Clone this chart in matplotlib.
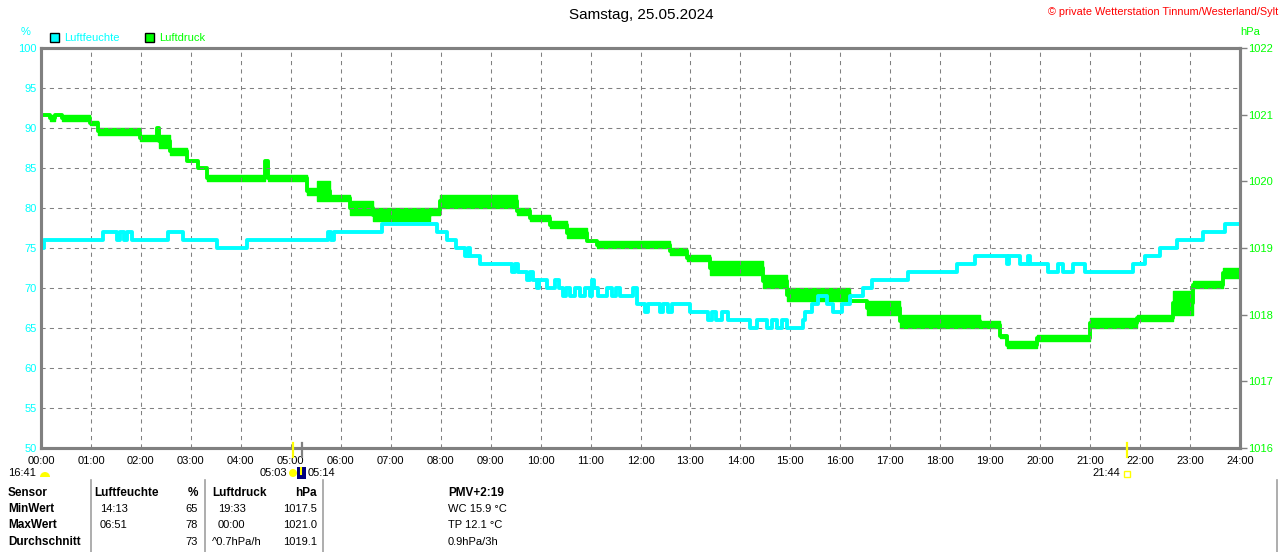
import matplotlib
matplotlib.use("Agg")
import matplotlib.pyplot as plt
from matplotlib.patches import Rectangle, Circle, Wedge

plt.rcParams['font.family'] = ['Liberation Sans', 'DejaVu Sans']

# --- Luftfeuchte (%), Stufen: Startzeit in Stunden, Wert
hum_t = [0.00, 0.06, 1.24, 1.52, 1.58, 1.66, 1.72, 1.82, 2.54, 2.84, 3.52, 4.12,
         5.74, 5.80, 5.86, 6.83, 7.93, 8.13, 8.31, 8.49, 8.55, 8.59, 8.79, 9.43,
         9.49, 9.55, 9.73, 9.79, 9.85, 9.93, 9.97, 10.13, 10.29, 10.37, 10.45, 10.51,
         10.59, 10.69, 10.79, 10.89, 10.99, 11.03, 11.07, 11.15, 11.23, 11.33, 11.43, 11.51,
         11.59, 11.85, 11.93, 12.09, 12.15, 12.39, 12.45, 12.55, 12.63, 12.99, 13.35, 13.43,
         13.51, 13.63, 13.75, 14.19, 14.33, 14.53, 14.63, 14.73, 14.83, 14.93, 15.25, 15.29,
         15.43, 15.55, 15.73, 15.85, 16.03, 16.19, 16.45, 16.63, 17.35, 18.33, 18.69, 19.34,
         19.38, 19.60, 19.76, 19.80, 20.16, 20.36, 20.46, 20.66, 20.90, 21.86, 22.10, 22.40,
         22.74, 23.26, 23.70]
hum_v = [75, 76, 77, 76, 77, 76, 77, 76, 77, 76, 75, 76,
         77, 76, 77, 78, 77, 76, 75, 74, 75, 74, 73, 72,
         73, 72, 71, 72, 71, 70, 71, 70, 71, 70, 69, 70,
         69, 70, 69, 70, 69, 71, 70, 69, 69, 70, 69, 70,
         69, 70, 68, 67, 68, 67, 68, 67, 68, 67, 66, 67,
         66, 67, 66, 65, 66, 65, 66, 65, 66, 65, 66, 67,
         68, 69, 68, 67, 68, 69, 70, 71, 72, 73, 74, 73,
         74, 73, 74, 73, 72, 73, 72, 73, 72, 73, 74, 75,
         76, 77, 78]

# --- Luftdruck (hPa): Startzeit, untere / obere Grenze des Rauschbands
p_t = [0.00, 0.18, 0.28, 0.42, 0.98, 1.14, 1.98, 2.32, 2.36, 2.58, 2.92, 3.14,
       3.32, 4.48, 4.54, 5.32, 5.52, 5.79, 6.18, 6.65, 7.79, 7.99, 9.53, 9.79,
       10.19, 10.53, 10.93, 11.13, 12.59, 12.93, 13.39, 14.45, 14.93, 16.19, 16.53, 17.19,
       18.79, 19.20, 19.34, 19.94, 21.00, 21.94, 22.66, 23.06, 23.66]
p_lo = [1021.0, 1020.9, 1021.0, 1020.9, 1020.85, 1020.7, 1020.6, 1020.8, 1020.5, 1020.4, 1020.3, 1020.2,
        1020.0, 1020.3, 1020.0, 1019.8, 1019.7, 1019.7, 1019.5, 1019.4, 1019.5, 1019.6, 1019.5, 1019.4,
        1019.3, 1019.15, 1019.1, 1019.0, 1018.9, 1018.8, 1018.6, 1018.4, 1018.2, 1018.2, 1018.0, 1017.8,
        1017.8, 1017.65, 1017.5, 1017.6, 1017.8, 1017.9, 1018.0, 1018.4, 1018.55]
p_hi = [1021.0, 1021.0, 1021.0, 1021.0, 1020.9, 1020.8, 1020.7, 1020.8, 1020.7, 1020.5, 1020.3, 1020.2,
        1020.1, 1020.3, 1020.1, 1019.9, 1020.0, 1019.8, 1019.7, 1019.6, 1019.6, 1019.8, 1019.6, 1019.5,
        1019.4, 1019.3, 1019.1, 1019.1, 1019.0, 1018.9, 1018.8, 1018.6, 1018.4, 1018.2, 1018.2, 1018.0,
        1017.9, 1017.7, 1017.6, 1017.7, 1017.95, 1018.0, 1018.35, 1018.5, 1018.7]

hours = list(range(25))
hour_labels = ["%02d:00" % h for h in hours]

# Sonnen-/Mondereignisse (Stunden)
sunrise, moonrise, sunset = 5.05, 5.233, 21.733

table_rows = [
    ["Sensor", "Luftfeuchte", "%", "Luftdruck", "hPa", "PMV+2:19"],
    ["MinWert", "14:13", "65", "19:33", "1017.5", "WC 15.9 °C"],
    ["MaxWert", "06:51", "78", "00:00", "1021.0", "TP 12.1 °C"],
    ["Durchschnitt", "", "73", "^0.7hPa/h", "1019.1", "0.9hPa/3h"],
]

CYAN = "#00ffff"
GREEN = "#00ff00"
GREY = "#808080"

fig = plt.figure(figsize=(12.8, 5.52), dpi=100)
ax = fig.add_axes([41 / 1280, 104 / 552, 1199 / 1280, 400 / 552])
ax2 = ax.twinx()
ax.set_zorder(ax2.get_zorder() + 1)
ax.patch.set_visible(False)

# Luftdruck: Rauschband + Mittellinie
pt = p_t + [24.0]
plo = p_lo + [p_lo[-1]]
phi = p_hi + [p_hi[-1]]
pmid = [(a + b) / 2 for a, b in zip(plo, phi)]
ax2.fill_between(pt, plo, phi, step='post', color=GREEN, lw=0)
ax2.step(pt, plo, where='post', color=GREEN, lw=1.0)
ax2.step(pt, phi, where='post', color=GREEN, lw=1.0)
ax2.step(pt, pmid, where='post', color=GREEN, lw=2.8)
ax2.set_ylim(1016, 1022)
ax2.set_yticks(range(1016, 1023))
ax2.tick_params(axis='y', colors=GREY, labelcolor=GREEN, length=5, width=1,
                pad=1, labelsize=8)

# Luftfeuchte
ax.step(hum_t + [24.0], hum_v + [hum_v[-1]], where='post', color=CYAN, lw=2.8)
ax.set_xlim(0, 24)
ax.set_ylim(50, 100)
ax.set_yticks(range(50, 101, 5))
ax.set_xticks(hours)
ax.set_xticklabels(hour_labels)
ax.tick_params(axis='y', length=0, pad=3, labelcolor=CYAN, labelsize=8)
ax.tick_params(axis='x', length=0, pad=6, labelcolor='black', labelsize=8)
ax.grid(True, color=GREY, linestyle=(0, (4, 4)), linewidth=0.75)

for a in (ax, ax2):
    for s in a.spines.values():
        s.set_color(GREY)
        s.set_linewidth(2.2)

# Ereignismarken unter der x-Achse
xt = ax.get_xaxis_transform()
for t, c in [(sunrise, "#ffff00"), (moonrise, GREY), (sunset, "#ffff00")]:
    ax.plot([t, t], [-0.0225, 0.0125], transform=xt, color=c, lw=1.6,
            clip_on=False, zorder=5)

# Überlagerung in Pixelkoordinaten für Texte und Tabelle
ov = fig.add_axes([0, 0, 1, 1])
ov.set_xlim(0, 1280)
ov.set_ylim(552, 0)
ov.axis('off')
ov.set_zorder(10)

ov.text(641, 15, "Samstag, 25.05.2024", ha='center', va='center', fontsize=11)
ov.text(1278, 12, "© private Wetterstation Tinnum/Westerland/Sylt", ha='right',
        va='center', fontsize=7.8, color='red')
ov.text(26, 32, "%", ha='center', va='center', fontsize=8, color=CYAN)
ov.text(1250, 32, "hPa", ha='center', va='center', fontsize=8, color=GREEN)

ov.add_patch(Rectangle((50, 33), 9, 9, fc=CYAN, ec='black', lw=1))
ov.text(64, 38, "Luftfeuchte", va='center', fontsize=8, color=CYAN)
ov.add_patch(Rectangle((145, 33), 9, 9, fc=GREEN, ec='black', lw=1))
ov.text(159, 38, "Luftdruck", va='center', fontsize=8, color=GREEN)

# Mond / Sonne Symbole
ov.text(8, 473, "16:41", va='center', fontsize=8)
ov.add_patch(Wedge((45, 477), 5, 180, 360, fc='#ffff00', ec='none'))
ov.text(287, 473, "05:03", ha='right', va='center', fontsize=8)
ov.add_patch(Circle((293, 473), 4, fc='#ffff00', ec='none'))
ov.add_patch(Rectangle((297, 467), 9, 12, fc='#000080', ec='none'))
ov.plot([301, 301], [468, 474], color='#ffff00', lw=1.5)
ov.text(308, 473, "05:14", va='center', fontsize=8)
ov.text(1120, 473, "21:44", ha='right', va='center', fontsize=8)
ov.add_patch(Rectangle((1124, 471), 6, 6, fc='none', ec='#ffff00', lw=1))

# Tabelle
for xs in (91, 205, 323, 1277):
    ov.plot([xs, xs], [480, 552], color='#a0a0a0', lw=1.2)
row_y = [493, 509, 525, 542]
col_x = [8, 94, 198, 212, 317, 448]
col_ha = ['left', 'left', 'right', 'left', 'right', 'left']
for r, (y, row) in enumerate(zip(row_y, table_rows)):
    for c, txt in enumerate(row):
        x = col_x[c]
        if r > 0 and c == 1:
            x = 100
        if r in (1, 2) and c == 3:
            x = 218
        bold = (r == 0) or (c == 0)
        ov.text(x, y, txt, ha=col_ha[c], va='center', fontsize=8.5 if bold else 8,
                fontweight='bold' if bold else 'normal')

fig.savefig("out.png", dpi=100)
